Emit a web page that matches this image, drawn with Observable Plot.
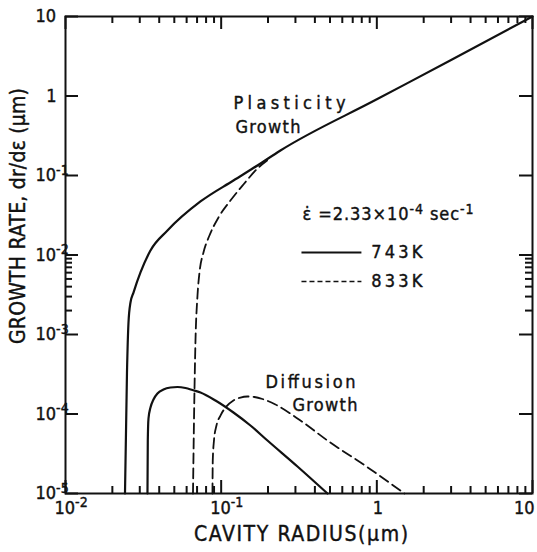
<!DOCTYPE html>
<html><head><meta charset="utf-8">
<script src="https://cdn.jsdelivr.net/npm/d3@7"></script>
<script src="https://cdn.jsdelivr.net/npm/@observablehq/plot@0.6"></script>
<style>body{margin:0;background:#fff}</style>
</head><body><div id="chart"></div>
<script>
// ---- axes / ticks ----
const xMajor = [0.01, 0.1, 1, 10];
const xMajorLabels = ["10^-2", "10^-1", "1", "10"];
const yMajor = [1e-5, 1e-4, 1e-3, 1e-2, 1e-1, 1, 10];
const yMajorLabels = ["10^-5", "10^-4", "10^-3", "10^-2", "10^-1", "1", "10"];
const xMinor = [0.02,0.03,0.04,0.05,0.06,0.07,0.08,0.09,
                0.2,0.3,0.4,0.5,0.6,0.7,0.8,0.9,
                2,3,4,5,6,7,8,9];
const yMinor = [0.002,0.003,0.004,0.005,0.006,0.007,0.008,0.009];

// ---- series (cavity radius r in µm, growth rate dr/dε in µm) ----
const plast743_r = [0.02411,0.02483,0.02539,0.02615,0.02734,0.03032,0.03514,0.04518,0.07364,0.1199,0.1710,0.2403,1,3,10];
const plast743_v = [1e-5,3.33e-4,1.416e-3,2.527e-3,3.37e-3,6.03e-3,0.0114,0.02032,0.0471,0.0865,0.1337,0.2063,0.908,2.84,10];

const plast833_r = [0.06592,0.0669,0.0684,0.07046,0.07256,0.07696,0.0841,0.0961,0.1147,0.139,0.171,0.2012];
const plast833_v = [1e-5,8.28e-5,8.4e-4,3.094e-3,6.03e-3,0.01075,0.01759,0.02962,0.04847,0.07704,0.1224,0.159];

const diff743_r = [0.03362,0.03378,0.03413,0.03515,0.03674,0.03898,0.04259,0.04724,0.05239,0.05898,0.06543,0.07364,0.09192,0.1199,0.1542,0.1983,0.3091,0.4817];
const diff743_v = [1e-5,4.64e-5,8.78e-5,1.207e-4,1.522e-4,1.811e-4,2.033e-4,2.154e-4,2.186e-4,2.123e-4,2.004e-4,1.864e-4,1.478e-4,1.044e-4,7.17e-5,4.64e-5,2.186e-5,1e-5];

const diff833_r = [0.08791,0.08832,0.0899,0.09328,0.09897,0.1081,0.1199,0.133,0.1475,0.1636,0.1842,0.2232,0.3231,0.4817,0.8574,1.504];
const diff833_v = [1e-5,2.601e-5,4.64e-5,7.17e-5,9.57e-5,1.243e-4,1.478e-4,1.612e-4,1.66e-4,1.636e-4,1.544e-4,1.317e-4,8.28e-5,4.64e-5,2.186e-5,1e-5];

// ---- annotations ----
const labels = [
  {text: "Plasticity", r: 0.12,   v: 0.805},
  {text: "Growth",     r: 0.1236, v: 0.402},
  {text: "Diffusion",  r: 0.1925, v: 2.49e-4},
  {text: "Growth",     r: 0.287,  v: 1.28e-4},
  {text: "ε̇ =2.33×10^-4 sec^-1", r: 0.333, v: 0.0323},
  {text: "743K", r: 0.922, v: 0.01075},
  {text: "833K", r: 0.922, v: 4.64e-3}
];
const legendSamples = [
  {r1: 0.328, r2: 0.796, v: 0.01075, dash: "none"},
  {r1: 0.328, r2: 0.796, v: 4.64e-3, dash: "5,3"}
];
const xTitle = "CAVITY RADIUS(μm)";
const yTitle = "GROWTH RATE, dr/dε (μm)";

const textLengths = {
  "Plasticity": 112, "Growth": 65, "Diffusion": 90,
  "ε̇ =2.33×10^-4 sec^-1": 171, "743K": 51, "833K": 51,
  [xTitle]: 214, [yTitle]: 256
};

const toRows = (rs, vs) => rs.map((r, i) => ({r, v: vs[i]}));

const width = 537, height = 552;
const mTop = 16, mRight = 5, mBottom = 59, mLeft = 65;
const innerW = width - mLeft - mRight;
const innerH = height - mTop - mBottom;
const ink = "#111";
const font = "'DejaVu Sans Condensed', 'DejaVu Sans', sans-serif";
const big = 13, small = 7, tickW = 2;
const txt = {fill: ink, stroke: ink, strokeWidth: 0.4};

const yLab = yMajor.map((d, i) => ({d, t: yMajorLabels[i]}));
const xLab = xMajor.map((d, i) => ({d, t: xMajorLabels[i]}));

const svg = Plot.plot({
  width, height,
  marginTop: mTop, marginRight: mRight, marginBottom: mBottom, marginLeft: mLeft,
  style: {fontFamily: font, background: "#fff", color: ink},
  x: {type: "log", domain: [0.01, 10], axis: null},
  y: {type: "log", domain: [1e-5, 10], axis: null},
  marks: [
    // inside ticks on all four sides
    Plot.tickX(xMajor, {x: d => d, insetTop: innerH - big, stroke: ink, strokeWidth: tickW}),
    Plot.tickX(xMajor, {x: d => d, insetBottom: innerH - big, stroke: ink, strokeWidth: tickW}),
    Plot.tickX(xMinor, {x: d => d, insetTop: innerH - small, stroke: ink, strokeWidth: tickW}),
    Plot.tickX(xMinor, {x: d => d, insetBottom: innerH - small, stroke: ink, strokeWidth: tickW}),
    Plot.tickY(yMajor, {y: d => d, insetRight: innerW - big, stroke: ink, strokeWidth: tickW}),
    Plot.tickY(yMajor, {y: d => d, insetLeft: innerW - big, stroke: ink, strokeWidth: tickW}),
    Plot.tickY(yMinor, {y: d => d, insetRight: innerW - small, stroke: ink, strokeWidth: tickW}),
    Plot.tickY(yMinor, {y: d => d, insetLeft: innerW - small, stroke: ink, strokeWidth: tickW}),
    Plot.frame({stroke: ink, strokeWidth: 2}),
    // curves
    Plot.line(toRows(plast743_r, plast743_v), {x: "r", y: "v", curve: "monotone-x", stroke: ink, strokeWidth: 2.2}),
    Plot.line(toRows(plast833_r, plast833_v), {x: "r", y: "v", curve: "monotone-x", stroke: ink, strokeWidth: 1.8, strokeDasharray: "10,5"}),
    Plot.line(toRows(diff743_r, diff743_v), {x: "r", y: "v", curve: "monotone-x", stroke: ink, strokeWidth: 2.2}),
    Plot.line(toRows(diff833_r, diff833_v), {x: "r", y: "v", curve: "monotone-x", stroke: ink, strokeWidth: 1.8, strokeDasharray: "10,5"}),
    // legend samples
    Plot.link(legendSamples.filter(d => d.dash === "none"), {x1: "r1", x2: "r2", y1: "v", y2: "v", stroke: ink, strokeWidth: 1.8}),
    Plot.link(legendSamples.filter(d => d.dash !== "none"), {x1: "r1", x2: "r2", y1: "v", y2: "v", stroke: ink, strokeWidth: 1.6, strokeDasharray: "5,3"}),
    // annotations
    Plot.text(labels, {x: "r", y: "v", text: "text", textAnchor: "start", fontSize: 18, ...txt}),
    // tick labels
    Plot.text(yLab.filter(o => o.t !== "1"),
      {frameAnchor: "left", y: "d", text: "t", textAnchor: "start", dx: -30, fontSize: 18, ...txt}),
    Plot.text(yLab.filter(o => o.t === "1"),
      {frameAnchor: "left", y: "d", text: "t", textAnchor: "middle", dx: -14, fontSize: 18, ...txt}),
    Plot.text(xLab.filter(o => o.t.includes("^")),
      {frameAnchor: "bottom", x: "d", text: "t", textAnchor: "start", dx: -11, dy: 20, fontSize: 18, ...txt}),
    Plot.text(xLab.filter(o => o.t === "1"),
      {frameAnchor: "bottom", x: "d", text: "t", textAnchor: "middle", dx: 1, dy: 20, fontSize: 18, ...txt}),
    Plot.text(xLab.filter(o => o.t === "10"),
      {frameAnchor: "bottom", x: "d", text: "t", textAnchor: "end", dx: 2, dy: 20, fontSize: 18, ...txt}),
    // axis titles
    Plot.text([xTitle], {frameAnchor: "bottom", text: d => d, textAnchor: "middle", dy: 47, dx: 2, fontSize: 21, ...txt}),
    Plot.text([yTitle], {frameAnchor: "left", text: d => d, textAnchor: "middle", dx: -47, dy: -39, rotate: -90, fontSize: 21, ...txt})
  ]
});
document.getElementById("chart").appendChild(svg);

// superscripts and letter spacing
const NS = "http://www.w3.org/2000/svg";
svg.querySelectorAll("text").forEach(t => {
  const s = t.textContent;
  const len = textLengths[s];
  if (s.includes("^")) {
    const fs = parseFloat(getComputedStyle(t).fontSize) || 18;
    const sup = fs * 0.78, rise = fs * 0.36;
    t.textContent = "";
    let up = false;
    for (const p of s.split(/(\^\S+)/)) {
      if (!p) continue;
      const sp = document.createElementNS(NS, "tspan");
      if (p.startsWith("^")) {
        sp.textContent = p.slice(1);
        sp.setAttribute("font-size", sup);
        sp.setAttribute("dy", -rise);
        up = true;
      } else {
        sp.textContent = p;
        if (up) { sp.setAttribute("dy", rise); up = false; }
      }
      t.appendChild(sp);
    }
  }
  if (len) { t.setAttribute("textLength", len); t.setAttribute("lengthAdjust", "spacing"); }
});
</script></body></html>
